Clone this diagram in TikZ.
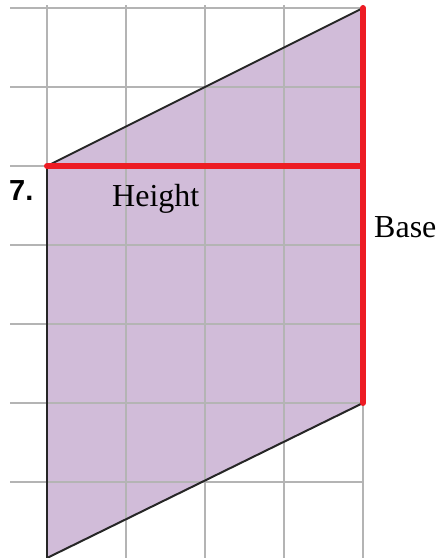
\documentclass[tikz,border=0pt]{standalone}
\usepackage{fontspec}
\setmainfont{Liberation Serif}
\newfontfamily\labelsans{Liberation Sans}
\definecolor{fillpurple}{HTML}{D1BCD9}
\definecolor{gridgray}{HTML}{B4B4B4}
\definecolor{edgered}{HTML}{ED1C24}
\begin{document}
\begin{tikzpicture}[x=1pt,y=-1pt,
  gridline/.style={draw=gridgray,line width=1.4pt},
  edgeline/.style={draw=black!85,line width=2pt,line join=round},
  redline/.style={draw=edgered,line width=6pt,line cap=round},
  lbl/.style={inner sep=0pt,anchor=base west,font=\fontsize{32}{36}\selectfont}]
\useasboundingbox (0,0) rectangle (438,558);
% shape fill
\coordinate (A) at (47,166);
\coordinate (B) at (363,8);
\coordinate (C) at (363,403);
\coordinate (D) at (47,558);
\fill[fillpurple] (A) -- (B) -- (C) -- (D) -- cycle;
% grid
\foreach \x in {47,126,205,284,363} \draw[gridline] (\x,5) -- (\x,558);
\foreach \y in {8,87,166,245,324,403,482} \draw[gridline] (10,\y) -- (363,\y);
% edges
\draw[edgeline] (A) -- (B);
\draw[edgeline] (A) -- (D);
\draw[edgeline] (D) -- (C);
% red height & base
\draw[redline] (A) -- (A -| C);
\draw[redline] (B) -- (C);
% labels
\node[inner sep=0pt,anchor=base west,font=\labelsans\bfseries\fontsize{29}{32}\selectfont] (num) at (9,200) {7.};
\node[lbl] (height) at (112,206) {Height};
\node[lbl] (base) at (374,237) {Base};
\end{tikzpicture}
\end{document}
